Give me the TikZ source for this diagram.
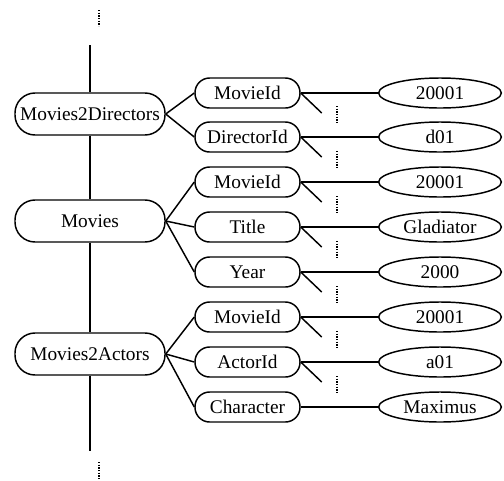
\documentclass[tikz,border=0pt]{standalone}
\usepackage{fontspec}
\setmainfont{Liberation Serif}
\newfontfamily\labelfont{Liberation Serif}
\usetikzlibrary{shapes.geometric,calc}
\begin{document}
\begin{tikzpicture}[x=0.75pt,y=-0.75pt,
  every node/.style={font=\labelfont\fontsize{14.5}{16}\selectfont},
  line/.style={line width=1.1pt},
  elem/.style={draw,line width=1.1pt,rectangle,rounded corners=15pt,inner sep=0pt,
    minimum width=112.5pt,minimum height=31.5pt},
  attr/.style={draw,line width=1.1pt,rectangle,rounded corners=11pt,inner sep=0pt,
    minimum width=78.75pt,minimum height=22.5pt},
  val/.style={draw,line width=1.1pt,ellipse,inner sep=0pt,
    minimum width=92pt,minimum height=22.5pt},
  more/.style={line width=1.1pt,dash pattern=on 1.1pt off 0.9pt}]
\useasboundingbox (0,0) rectangle (504,480);

% element nodes on the main spine
\node[elem] (m2d) at (90,114) {Movies2Directors};
\node[elem] (mov) at (90,221) {Movies};
\node[elem] (m2a) at (90,354) {Movies2Actors};

% attribute nodes
\node[attr] (a1) at (247.5,93)  {MovieId};
\node[attr] (a2) at (247.5,137) {DirectorId};
\node[attr] (a3) at (247.5,182) {MovieId};
\node[attr] (a4) at (247.5,227) {Title};
\node[attr] (a5) at (247.5,272) {Year};
\node[attr] (a6) at (247.5,317) {MovieId};
\node[attr] (a7) at (247.5,362) {ActorId};
\node[attr] (a8) at (247.5,407) {Character};

% value nodes
\node[val] (v1) at (440,93)  {20001};
\node[val] (v2) at (440,137) {d01};
\node[val] (v3) at (440,182) {20001};
\node[val] (v4) at (440,227) {Gladiator};
\node[val] (v5) at (440,272) {2000};
\node[val] (v6) at (440,317) {20001};
\node[val] (v7) at (440,362) {a01};
\node[val] (v8) at (440,407) {Maximus};

% spine
\coordinate (spTop) at (90,45);
\coordinate (spBot) at (90,451);
\draw[line] (spTop) -- (m2d.north);
\draw[line] (m2d.south) -- (mov.north);
\draw[line] (mov.south) -- (m2a.north);
\draw[line] (m2a.south) -- (spBot);

% continuation marks of the spine
\coordinate (dt1) at (99,10);  \coordinate (dt2) at (99,26);
\coordinate (db1) at (99,462); \coordinate (db2) at (99,480);
\draw[more] (dt1) -- (dt2);
\draw[more] (db1) -- (db2);

% element to attribute
\foreach \a in {a1,a2} \draw[line] (m2d.east) -- (\a.west);
\foreach \a in {a3,a4,a5} \draw[line] (mov.east) -- (\a.west);
\foreach \a in {a6,a7,a8} \draw[line] (m2a.east) -- (\a.west);

% attribute to value
\foreach \i in {1,...,8} \draw[line] (a\i.east) -- (v\i.west);

% open branches with continuation marks
\foreach \i/\ym in {1/115,2/160,3/205,4/250,5/295,6/340,7/385}{
  \coordinate (s\i) at ($(a\i.east)+(21,20)$);
  \draw[line] (a\i.east) -- (s\i);
  \coordinate (d\i a) at (337,\ym-9);
  \coordinate (d\i b) at (337,\ym+9);
  \draw[more] (d\i a) -- (d\i b);
}
\end{tikzpicture}
\end{document}
